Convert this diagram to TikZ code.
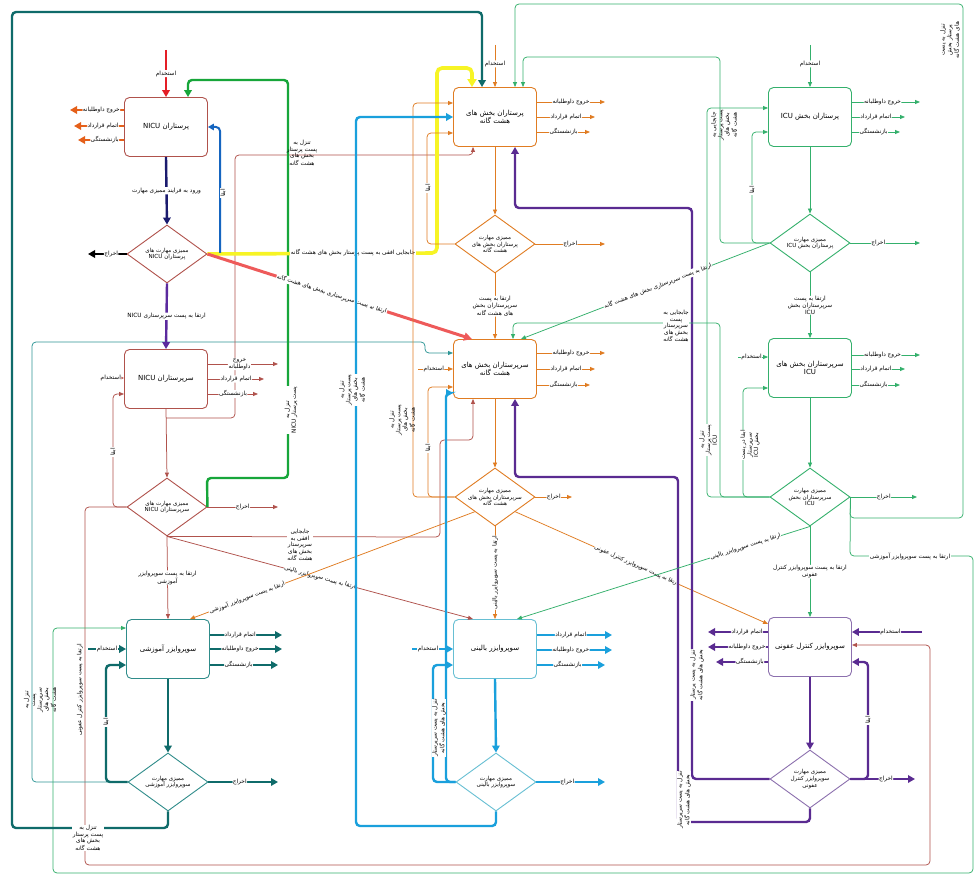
\documentclass[tikz,border=0pt]{standalone}
\usepackage{fontspec}
\newfontfamily\arabicfont[Script=Arabic]{DejaVu Sans}
\TeXXeTstate=1
\usetikzlibrary{shapes.geometric,arrows.meta}
\newcommand{\fa}[1]{\beginR #1\endR}
\newcommand{\lat}[1]{\beginL #1\endL}
\definecolor{nicuBr}{HTML}{B0524C}
\definecolor{orOut}{HTML}{E5601A}
\definecolor{redIn}{HTML}{E41E26}
\definecolor{navyT}{HTML}{1B1B6E}
\definecolor{blueAb}{HTML}{1565C0}
\definecolor{purpT}{HTML}{5B2A9E}
\definecolor{greenT}{HTML}{17A63A}
\definecolor{yellowT}{HTML}{F7F425}
\definecolor{redT}{HTML}{EE5A5A}
\definecolor{tealT}{HTML}{0F6B6A}
\definecolor{tealN}{HTML}{2E9696}
\definecolor{orC}{HTML}{E07C22}
\definecolor{blueC}{HTML}{1AA0DC}
\definecolor{greenI}{HTML}{34B06C}
\definecolor{purpI}{HTML}{5A2B91}
\definecolor{boxPur}{HTML}{8C70AE}
\definecolor{boxBlue}{HTML}{67BFD3}
\definecolor{boxTeal}{HTML}{2F8C8A}
\begin{document}
\begin{tikzpicture}[x=1pt,y=-1pt,
  box/.style={draw, rounded corners=5pt, minimum width=83pt, minimum height=59pt, fill=white, line width=0.9pt, align=center, text=black, font=\arabicfont\fontsize{7}{8.6}\selectfont},
  dia/.style={draw, diamond, aspect=1.38, minimum width=80pt, minimum height=58pt, inner sep=0pt, fill=white, line width=0.9pt, align=center, text=black, font=\arabicfont\fontsize{5.6}{6.7}\selectfont},
  lab/.style={fill=white, text=black, inner sep=0.6pt, align=center, font=\arabicfont\fontsize{5.8}{6.6}\selectfont},
  tarr/.style={line width=2.4pt, rounded corners=4pt, -{Triangle[length=7pt,width=7.5pt]}},
  narr/.style={line width=0.75pt, rounded corners=4pt, -{Triangle[length=5pt,width=4pt]}}
]
\fill[white] (0,0) rectangle (979,877);
\path[use as bounding box] (0,0) rectangle (979,877);

% ---------- nodes ----------
\node[box,draw=nicuBr] (b1) at (166,127) {\fa{پرستاران \lat{NICU}}};
\node[dia,draw=nicuBr] (d1) at (167,254) {\fa{ممیزی مهارت های}\\\fa{پرستاران \lat{NICU}}};
\node[box,draw=nicuBr] (b2) at (166,379) {\fa{سرپرستاران \lat{NICU}}};
\node[dia,draw=nicuBr] (d2) at (167,507) {\fa{ممیزی مهارت های}\\\fa{سرپرستاران \lat{NICU}}};
\node[box,draw=boxTeal] (b3) at (168,649) {\fa{سوپروایزر آموزشی}};
\node[dia,draw=boxTeal] (d3) at (168,782) {\fa{ممیزی مهارت}\\\fa{سوپروایزر آموزشی}};
\node[box,draw=orC] (b4) at (495,117) {\fa{پرستاران بخش های}\\\fa{هشت گانه}};
\node[dia,draw=orC] (d4) at (495,244) {\fa{ممیزی مهارت}\\\fa{پرستاران بخش های}\\\fa{هشت گانه}};
\node[box,draw=orC] (b5) at (495,369) {\fa{سرپرستاران بخش های}\\\fa{هشت گانه}};
\node[dia,draw=orC] (d5) at (495,497) {\fa{ممیزی مهارت}\\\fa{سرپرستاران بخش های}\\\fa{هشت گانه}};
\node[box,draw=boxBlue] (b6) at (495,649) {\fa{سوپروایزر بالینی}};
\node[dia,draw=boxBlue] (d6) at (496,782) {\fa{ممیزی مهارت}\\\fa{سوپروایزر بالینی}};
\node[box,draw=greenI] (b7) at (810,117) {\fa{پرستاران بخش \lat{ICU}}};
\node[dia,draw=greenI] (d7) at (810,243) {\fa{ممیزی مهارت}\\\fa{پرستاران بخش \lat{ICU}}};
\node[box,draw=greenI] (b8) at (810,368) {\fa{سرپرستاران بخش های}\\ICU};
\node[dia,draw=greenI] (d8) at (810,497) {\fa{ممیزی مهارت}\\\fa{سرپرستاران بخش}\\ICU};
\node[box,draw=boxPur] (b9) at (810,647) {\fa{سوپروایزر کنترل عفونی}};
\node[dia,draw=boxPur] (d9) at (810,779) {\fa{ممیزی مهارت}\\\fa{سوپروایزر کنترل}\\\fa{عفونی}};
\coordinate (j1) at (166,418);
\coordinate (yj) at (220,253);

% ---------- long thin loops (drawn first) ----------
\draw[narr,nicuBr] (d2.west) -- (85,507) -- (85,865) -- (930,865) -- (930,645) -- (b9.east |- 0,645);
\draw[narr,tealN] (d3.west) -- (32,782) -- (32,342) -- (425,342) -- (425,353) -- (b5.west |- 0,353);
\draw[narr,greenI] (d8.east) -- (850,556) -- (973,556) -- (973,873) -- (53,873) -- (53,628) -- (b3.west |- 0,628);
\draw[narr,greenI] (d8.east) -- (850,518) -- (963,518) -- (963,4) -- (515,4) -- (b4.north -| 515,0);
\draw[narr,nicuBr] (j1) -- (235,418) -- (235,155) -- (473,155) -- (b4.south -| 473,0);
\draw[narr,nicuBr] (d2.south) -- (440,537) -- (440,440) -- (473,440) -- (b5.south -| 473,0);

% ---------- NICU column ----------
\draw[tarr,redIn] (166,50) -- (b1.north) node[lab,pos=0.5]{\fa{استخدام}};
\draw[tarr,orOut] (b1.west |- 0,110) -- (70,110) node[lab,pos=0.42]{\fa{خروج داوطلبانه}};
\draw[tarr,orOut] (b1.west |- 0,126) -- (74,126) node[lab,pos=0.42]{\fa{اتمام قرارداد}};
\draw[tarr,orOut] (b1.west |- 0,140) -- (78,140) node[lab,pos=0.42]{\fa{بازنشستگی}};
\draw[tarr,greenT] (d2.east) -- (207,478) -- (288,478) -- (288,80) -- (188,80) -- (b1.north -| 188,0);
\draw[tarr,navyT] (b1.south) -- (d1.north) node[lab,midway]{\fa{ورود به فرایند ممیزی مهارت}};
\draw[line width=3.6pt,yellowT,rounded corners=5pt,-{Triangle[length=8pt,width=9pt]}] (d1.east) -- (437,253) -- (437,68) -- (472,68) -- (b4.north -| 472,0);
\draw[line width=2pt,blueAb,rounded corners=4pt,-{Triangle[length=6pt,width=6.5pt]}] (yj) -- (220,127) -- (b1.east);
\node[lab,rotate=90] at (223,193) {\fa{ابقا}};
\node[lab] at (353,253) {\fa{جابجایی افقی به پست پرستار بخش های هشت گانه}};
\draw[line width=3pt,redT,-{Triangle[length=8pt,width=8pt]}] (d1.east) -- (b5.north -| 472,0) node[lab,sloped,pos=0.47]{\fa{ارتقا به پست سرپرستاری بخش های هشت گانه}};
\draw[tarr,black] (d1.west) -- (88,254) node[lab,pos=0.4]{\fa{اخراج}};
\draw[tarr,purpT] (d1.south) -- (b2.north) node[lab,midway]{\fa{ارتقا به پست سرپرستاری \lat{NICU}}};
\node[lab,rotate=90] at (291,410) {\fa{تنزل به}\\\fa{پست پرستار \lat{NICU}}};
\node[lab,fill=none] at (302,153) {\fa{تنزل به}\\\fa{پست پرستار}\\\fa{بخش های}\\\fa{هشت گانه}};

\draw[narr,nicuBr] (100,378) -- (b2.west |- 0,378) node[lab,pos=0.45]{\fa{استخدام}};
\draw[narr,nicuBr] (b2.east |- 0,364) -- (278,364) node[lab,pos=0.45]{\fa{خروج}\\\fa{داوطلبانه}};
\draw[narr,nicuBr] (b2.east |- 0,379) -- (264,379) node[lab,pos=0.5]{\fa{اتمام قرارداد}};
\draw[narr,nicuBr] (b2.east |- 0,394) -- (258,394) node[lab,pos=0.5]{\fa{بازنشستگی}};
\draw[narr,nicuBr] (b2.south) -- (d2.north);
\draw[narr,nicuBr] (d2.west) -- (113,507) -- (113,394) -- (b2.west |- 0,394);
\node[lab,rotate=90] at (113,452) {\fa{ابقا}};
\node[lab,rotate=90] at (80,690) {\fa{ارتقا به پست سوپروایزر کنترل عفونی}};
\draw[narr,nicuBr] (d2.east) -- (278,507) node[lab,pos=0.5]{\fa{اخراج}};
\node[lab] at (300,545) {\fa{جابجایی}\\\fa{افقی به}\\\fa{سرپرستار}\\\fa{بخش های}\\\fa{هشت گانه}};
\draw[narr,nicuBr] (d2.south) -- (b6.north -| 473,0) node[lab,sloped,pos=0.5]{\fa{ارتقا به پست سوپروایزر بالینی}};
\draw[narr,nicuBr] (d2.south) -- (b3.north) node[lab,pos=0.5]{\fa{ارتقا به پست سوپروایزر}\\\fa{آموزشی}};

% ---------- educational supervisor ----------
\draw[tarr,tealT] (88,649) -- (b3.west);
\node[lab] at (107,649) {\fa{استخدام}};
\draw[tarr,tealT] (b3.east |- 0,635) -- (282,635) node[lab,pos=0.42]{\fa{اتمام قرارداد}};
\draw[tarr,tealT] (b3.east |- 0,649) -- (282,649) node[lab,pos=0.42]{\fa{خروج داوطلبانه}};
\draw[tarr,tealT] (b3.east |- 0,665) -- (278,665) node[lab,pos=0.42]{\fa{بازنشستگی}};
\draw[tarr,tealT] (b3.south) -- (d3.north);
\draw[tarr,tealT] (d3.west) -- (106,782) -- (106,665) -- (b3.west |- 0,665);
\node[lab,rotate=90] at (106,722) {\fa{ابقا}};
\draw[tarr,tealT] (d3.east) -- (278,782) node[lab,pos=0.45]{\fa{اخراج}};
\draw[tarr,tealT] (d3.south) -- (168,828) -- (12,828) -- (12,12) -- (482,12) -- (b4.north -| 482,0);
\node[lab] at (88,838) {\fa{تنزل به}\\\fa{پست پرستار}\\\fa{بخش های}\\\fa{هشت گانه}};
\node[lab,rotate=90,fill=none] at (40,700) {\fa{تنزل به}\\\fa{پست}\\\fa{سرپرستار}\\\fa{بخش های}\\\fa{هشت گانه}};
\node[lab] at (910,556) {\fa{ارتقا به پست سوپروایزر آموزشی}};

% ---------- eight wards (orange) ----------
\draw[narr,orC] (495,45) -- (b4.north) node[lab,pos=0.45]{\fa{استخدام}};
\draw[narr,orC] (b4.east |- 0,102) -- (605,102) node[lab,pos=0.5]{\fa{خروج داوطلبانه}};
\draw[narr,orC] (b4.east |- 0,117) -- (595,117) node[lab,pos=0.5]{\fa{اتمام قرارداد}};
\draw[narr,orC] (b4.east |- 0,132) -- (590,132) node[lab,pos=0.5]{\fa{بازنشستگی}};
\draw[narr,orC] (b4.south) -- (d4.north);
\draw[narr,orC] (d4.west) -- (427,244) -- (427,133) -- (b4.west |- 0,133);
\node[lab,rotate=90] at (428,188) {\fa{ابقا}};
\draw[narr,orC] (d4.east) -- (605,244) node[lab,pos=0.5]{\fa{اخراج}};
\draw[narr,orC] (d4.south) -- (b5.north) node[lab,pos=0.5]{\fa{ارتقا به پست}\\\fa{سرپرستاران بخش}\\\fa{های هشت گانه}};
\draw[narr,orC] (418,369) -- (b5.west) node[lab,pos=0.45]{\fa{استخدام}};
\draw[narr,orC] (b5.east |- 0,353) -- (605,353) node[lab,pos=0.5]{\fa{خروج داوطلبانه}};
\draw[narr,orC] (b5.east |- 0,369) -- (595,369) node[lab,pos=0.5]{\fa{اتمام قرارداد}};
\draw[narr,orC] (b5.east |- 0,385) -- (590,385) node[lab,pos=0.5]{\fa{بازنشستگی}};
\draw[narr,orC] (b5.south) -- (d5.north);
\draw[narr,orC] (d5.west) -- (428,497) -- (428,387) -- (b5.west |- 0,387);
\draw[narr,orC] (d5.west) -- (413,497) -- (413,103) -- (b4.west |- 0,103);
\node[lab,rotate=90,fill=none] at (402,420) {\fa{تنزل به}\\\fa{پست پرستار}\\\fa{بخش های}\\\fa{هشت گانه}};
\node[lab,rotate=90] at (428,448) {\fa{ابقا}};
\draw[narr,orC] (d5.east) -- (572,497) node[lab,pos=0.5]{\fa{اخراج}};
\draw[narr,orC] (d5.south) -- (b6.north) node[lab,rotate=90,midway]{\fa{ارتقا به پست سوپروایزر بالینی}};
\draw[narr,orC] (d5.south west) -- (b3.north -| 190,0) node[lab,sloped,pos=0.8]{\fa{ارتقا به پست سوپروایزر آموزشی}};
\draw[narr,orC] (d5.south east) -- (b9.west |- 0,624) node[lab,sloped,pos=0.48]{\fa{ارتقا به پست سوپروایزر کنترل عفونی}};

% ---------- clinical supervisor (blue) ----------
\draw[tarr,blueC] (412,649) -- (b6.west);
\node[lab] at (428,649) {\fa{استخدام}};
\draw[tarr,blueC] (b6.east |- 0,635) -- (612,635) node[lab,pos=0.45]{\fa{اتمام قرارداد}};
\draw[tarr,blueC] (b6.east |- 0,650) -- (612,650) node[lab,pos=0.45]{\fa{خروج داوطلبانه}};
\draw[tarr,blueC] (b6.east |- 0,665) -- (605,665) node[lab,pos=0.45]{\fa{بازنشستگی}};
\draw[tarr,blueC] (b6.south) -- (d6.north);
\draw[tarr,blueC] (d6.east) -- (605,782) node[lab,pos=0.45]{\fa{اخراج}};
\draw[tarr,blueC] (d6.west) -- (433,782) -- (433,665) -- (b6.west |- 0,665);
\draw[tarr,blueC] (d6.west) -- (446,782) -- (446,393) -- (b5.west |- 0,393);
\node[lab,rotate=90] at (439,728) {\fa{تنزل به پست سرپرستار}\\\fa{بخش های هشت گانه}};
\draw[tarr,blueC] (d6.south) -- (496,826) -- (356,826) -- (356,117) -- (b4.west);
\node[lab,rotate=90] at (352,390) {\fa{تنزل به}\\\fa{پست پرستار}\\\fa{بخش های}\\\fa{هشت گانه}};

% ---------- infection control supervisor (purple) ----------
\draw[tarr,purpI] (922,632) -- (b9.east |- 0,632) node[lab,pos=0.45]{\fa{استخدام}};
\draw[tarr,purpI] (b9.west |- 0,632) -- (708,632) node[lab,pos=0.35]{\fa{اتمام قرارداد}};
\draw[tarr,purpI] (b9.west |- 0,647) -- (708,647) node[lab,pos=0.35]{\fa{خروج داوطلبانه}};
\draw[tarr,purpI] (b9.west |- 0,662) -- (716,662) node[lab,pos=0.35]{\fa{بازنشستگی}};
\draw[tarr,purpI] (b9.south) -- (d9.north);
\draw[tarr,purpI] (d9.east) -- (868,779) -- (868,662) -- (b9.east |- 0,662);
\node[lab,rotate=90] at (868,720) {\fa{ابقا}};
\draw[tarr,purpI] (d9.east) -- (915,779) node[lab,pos=0.55]{\fa{اخراج}};
\draw[tarr,purpI] (d9.west) -- (692,779) -- (692,208) -- (515,208) -- (b4.south -| 515,0);
\node[lab,rotate=90] at (697,675) {\fa{تنزل به پست پرستار}\\\fa{بخش های هشت گانه}};
\draw[tarr,purpI] (d9.south) -- (810,822) -- (678,822) -- (678,477) -- (515,477) -- (b5.south -| 515,0);
\node[lab,rotate=90] at (684,800) {\fa{تنزل به پست سرپرستار}\\\fa{بخش های هشت گانه}};

% ---------- ICU (green) ----------
\draw[narr,greenI] (810,45) -- (b7.north) node[lab,pos=0.45]{\fa{استخدام}};
\draw[narr,greenI] (b7.east |- 0,102) -- (920,102) node[lab,pos=0.45]{\fa{خروج داوطلبانه}};
\draw[narr,greenI] (b7.east |- 0,117) -- (905,117) node[lab,pos=0.45]{\fa{اتمام قرارداد}};
\draw[narr,greenI] (b7.east |- 0,132) -- (900,132) node[lab,pos=0.45]{\fa{بازنشستگی}};
\draw[narr,greenI] (b7.south) -- (d7.north);
\draw[narr,greenI] (d7.west) -- (752,243) -- (752,132) -- (b7.west |- 0,132);
\node[lab,rotate=90] at (752,190) {\fa{ابقا}};
\draw[narr,greenI] (d7.west) -- (720,243) -- (720,57) -- (523,57) -- (b4.north -| 523,0);
\node[lab,rotate=90,fill=none] at (724,125) {\fa{جابجایی به}\\\fa{پست پرستار}\\\fa{بخش های}\\\fa{هشت گانه}};
\draw[narr,greenI] (d7.west) -- (b5.north -| 521,0) node[lab,sloped,pos=0.45]{\fa{ارتقا به پست سرپرستاری بخش های هشت گانه}};
\draw[narr,greenI] (d7.east) -- (920,243) node[lab,pos=0.4]{\fa{اخراج}};
\draw[narr,greenI] (d7.south) -- (b8.north) node[lab,pos=0.5]{\fa{ارتقا به پست}\\\fa{سرپرستاران بخش}\\ICU};
\draw[narr,greenI] (738,357) -- (b8.west |- 0,357) node[lab,pos=0.45]{\fa{استخدام}};
\draw[narr,greenI] (b8.east |- 0,355) -- (920,355) node[lab,pos=0.45]{\fa{خروج داوطلبانه}};
\draw[narr,greenI] (b8.east |- 0,369) -- (905,369) node[lab,pos=0.45]{\fa{اتمام قرارداد}};
\draw[narr,greenI] (b8.east |- 0,385) -- (900,385) node[lab,pos=0.45]{\fa{بازنشستگی}};
\draw[narr,greenI] (b8.south) -- (d8.north);
\draw[narr,greenI] (d8.west) -- (743,497) -- (743,388) -- (b8.west |- 0,388);
\node[lab,rotate=90] at (750,445) {\fa{ابقا در پست}\\\fa{سرپرستار}\\\fa{بخش \lat{ICU}}};
\draw[narr,greenI] (d8.west) -- (720,497) -- (720,323) -- (513,323) -- (b5.north -| 513,0);
\node[lab] at (676,326) {\fa{جابجایی به}\\\fa{پست}\\\fa{سرپرستار}\\\fa{بخش های}\\\fa{هشت گانه}};
\draw[narr,greenI] (d8.west) -- (707,497) -- (707,108) -- (b7.west |- 0,108);
\node[lab,rotate=90] at (708,440) {\fa{تنزل به}\\\fa{پست پرستار}\\ICU};
\draw[narr,greenI] (d8.east) -- (917,497) node[lab,pos=0.5]{\fa{اخراج}};
\draw[narr,greenI] (d8.south) -- (b9.north) node[lab,pos=0.5]{\fa{ارتقا به پست سوپروایزر کنترل}\\\fa{عفونی}};
\draw[narr,greenI] (d8.south) -- (b6.north -| 517,0) node[lab,sloped,pos=0.22]{\fa{ارتقا به پست سوپروایزر بالینی}};
\node[lab,rotate=90] at (950,40) {\fa{تنزل به پست}\\\fa{پرستار بخش}\\\fa{های هشت گانه}};
\end{tikzpicture}
\end{document}
